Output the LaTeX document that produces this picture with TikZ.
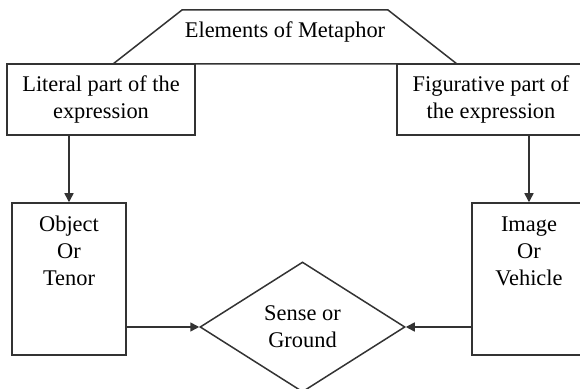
\documentclass[tikz,border=0pt]{standalone}
\usepackage{fontspec}
\setmainfont{Liberation Serif}
\usetikzlibrary{shapes.geometric,arrows.meta}

\tikzset{
    >={Triangle[length=4.5pt,width=4.5pt]},
    box/.style={draw=black!80, line width=0.75pt, align=center, inner sep=0pt},
    partbox/.style={box, minimum width=94pt, minimum height=35.5pt},
    tallbox/.style={box, minimum width=57pt, text height=41.3pt, text depth=34.7pt},
    link/.style={->, draw=black!80, line width=0.75pt}
}

\begin{document}
\begin{tikzpicture}[x=0.5pt, y=-0.5pt, font=\fontsize{11.2}{13.5}\selectfont]
    \useasboundingbox (0,0) rectangle (580,389);
    \clip (0,0) rectangle (580,389);

    % --- Nodes ---

    % 1. Title (Top)
    \draw[draw=black!80, line width=0.75pt] (113,64) -- (182,10) -- (388,10) -- (457,64) -- cycle;
    \node (elem) at (285,32) {Elements of Metaphor};

    % 2. Literal part (Left)
    \node[partbox] (lit) at (101,99.5) {Literal part of the\\expression};

    % 3. Figurative part (Right)
    \node[partbox] (fig) at (491,99.5) {Figurative part of\\the expression};

    % 4. Tenor (Bottom Left)
    \node[tallbox] (obj) at (69,279) {Object\\Or\\Tenor};

    % 5. Vehicle (Bottom Right)
    \node[tallbox] (img) at (529,279) {Image\\Or\\Vehicle};

    % 6. Ground (Bottom Center)
    \node[box, diamond, minimum width=102.5pt, minimum height=65pt] (sense) at (302.5,327) {Sense or\\Ground};

    % --- Arrows ---

    % Down to tenor and vehicle
    \draw[link] (obj |- lit.south) -- (obj.north);
    \draw[link] (img |- fig.south) -- (img.north);

    % Into the ground
    \draw[link] (obj.east |- sense.west) -- (sense.west);
    \draw[link] (img.west |- sense.east) -- (sense.east);

\end{tikzpicture}
\end{document}
